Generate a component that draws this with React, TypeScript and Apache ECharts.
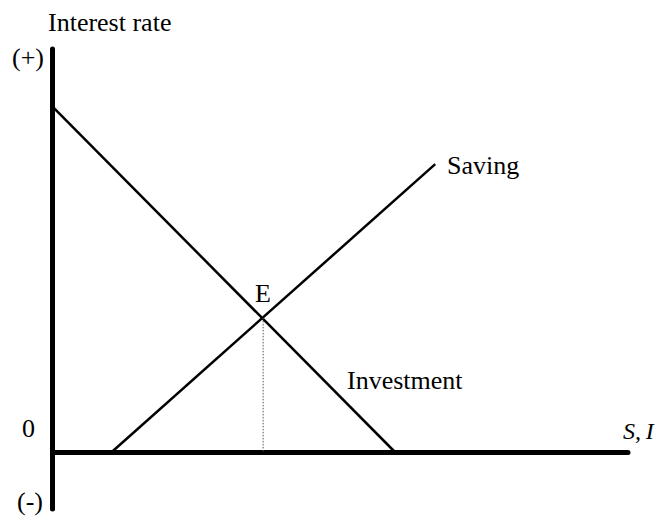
import React, { useEffect, useRef } from "react";
import * as echarts from "echarts";

const investment: [number, number][] = [
  [0, 60],
  [59.5, 0],
];
const saving: [number, number][] = [
  [10.3, 0],
  [66.5, 50],
];
const equilibrium: [number, number] = [36.6, 23.3];
const dropLine: [number, number][] = [
  [equilibrium[0], equilibrium[1]],
  [equilibrium[0], 0],
];

const FONT = "'Liberation Serif', 'Times New Roman', serif";

export default function App() {
  const ref = useRef<HTMLDivElement>(null);
  useEffect(() => {
    if (!ref.current) return;
    const chart = echarts.init(ref.current, null, { renderer: "svg" });
    const txt = (
      text: string,
      x: number,
      y: number,
      size = 26,
      italic = false
    ) => ({
      type: "text",
      x,
      y,
      style: {
        text,
        fill: "#000",
        font: `${italic ? "italic " : ""}${size}px ${FONT}`,
        align: "left",
        verticalAlign: "middle",
      },
    });
    chart.setOption({
      animation: false,
      backgroundColor: "#fff",
      grid: { left: 52.5, right: 31, top: 49, bottom: 8 },
      xAxis: {
        type: "value",
        min: 0,
        max: 100,
        axisLine: { show: true, onZero: true, lineStyle: { color: "#000", width: 5 } },
        axisTick: { show: false },
        axisLabel: { show: false },
        splitLine: { show: false },
      },
      yAxis: {
        type: "value",
        min: -9.9,
        max: 70,
        axisLine: { show: true, lineStyle: { color: "#000", width: 5 } },
        axisTick: { show: false },
        axisLabel: { show: false },
        splitLine: { show: false },
      },
      series: [
        {
          name: "Investment",
          type: "line",
          data: investment,
          symbol: "none",
          lineStyle: { color: "#000", width: 2.5 },
        },
        {
          name: "Saving",
          type: "line",
          data: saving,
          symbol: "none",
          lineStyle: { color: "#000", width: 2.5 },
        },
        {
          name: "drop",
          type: "line",
          data: dropLine,
          symbol: "none",
          lineStyle: { color: "#555", width: 1, type: [1.5, 1.5] },
        },
      ],
      graphic: [
        txt("Interest rate", 48, 22),
        txt("(+)", 12, 57),
        txt("0", 22, 428),
        txt("(-)", 17, 501),
        txt("E", 255, 293),
        txt("Investment", 347, 380),
        txt("Saving", 447, 165),
        txt("S,\u2009I", 623, 431, 24, true),
      ],
    });
    return () => chart.dispose();
  }, []);
  return <div ref={ref} style={{ width: 659, height: 517, position: "absolute", left: 0, top: 0 }} />;
}
